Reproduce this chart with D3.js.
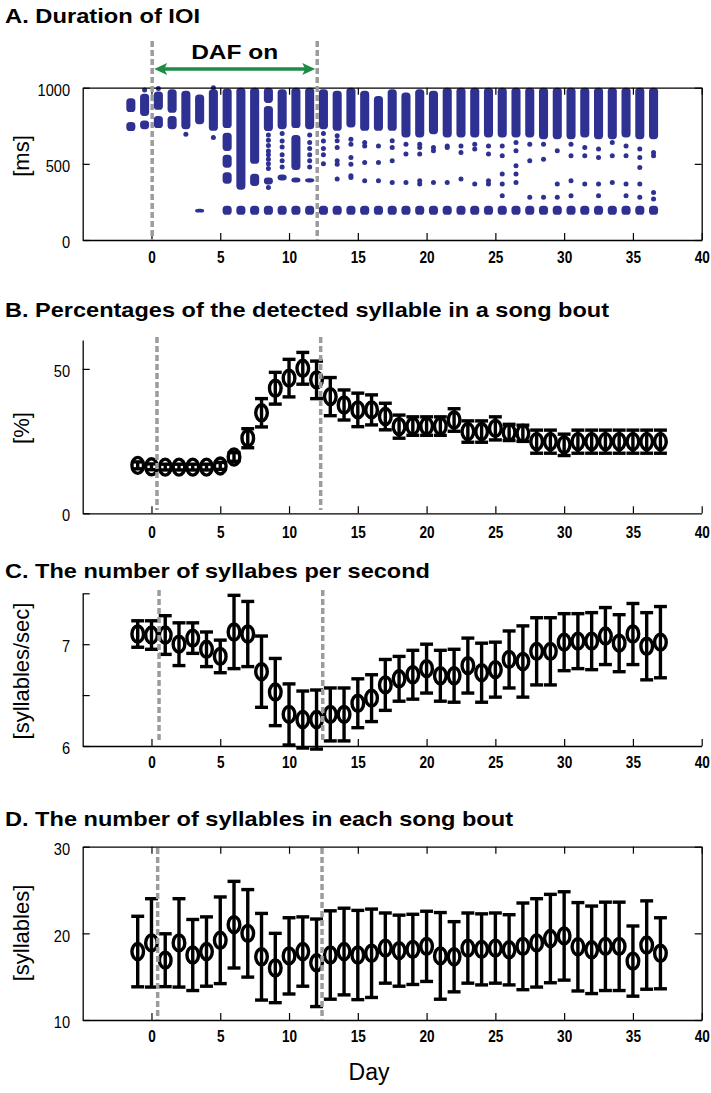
<!DOCTYPE html>
<html><head><meta charset="utf-8">
<script src="https://cdn.jsdelivr.net/npm/d3@7"></script>
<style>
body{margin:0;background:#fff;}
svg{display:block;font-family:"Liberation Sans",Arial,Helvetica,sans-serif;}
</style></head><body>
<svg id="chart" width="711" height="1093"></svg>
<script>
// ---------------- DATA ----------------
const days = [-1,0,1,2,3,4,5,6,7,8,9,10,11,12,13,14,15,16,17,18,19,20,21,22,23,24,25,26,27,28,29,30,31,32,33,34,35,36,37];
const xTickValues = [0,5,10,15,20,25,30,35,40];

// Panel A : IOI duration clusters (ms) per recording day column
const ioiDays = [-1.5,-0.5,0.5,1.5,2.5,3.5,4.5,5.5,6.5,7.5,8.5,9.5,10.5,11.5,12.5,13.5,14.5,15.5,16.5,17.5,18.5,19.5,20.5,21.5,22.5,23.5,24.5,25.5,26.5,27.5,28.5,29.5,30.5,31.5,32.5,33.5,34.5,35.5,36.5];
const ioiDense = [
  [[840,930],[715,775]],
  [[815,960],[728,785]],
  [[855,975],[735,815]],
  [[835,990],[728,815]],
  [[728,980]],
  [[760,955],[180,205]],
  [[717,990]],
  [[735,995],[585,705],[475,560],[370,445],[165,225]],
  [[330,1000],[165,225]],
  [[500,1000],[355,435],[165,225]],
  [[900,1000],[715,880],[365,410],[165,225]],
  [[728,990],[390,430],[165,225]],
  [[735,1000],[460,690],[378,411],[165,225]],
  [[728,1000],[378,405],[165,225]],
  [[728,990],[165,225]],
  [[717,980],[165,225]],
  [[739,1000],[165,225]],
  [[717,980],[165,225]],
  [[717,946],[165,225]],
  [[717,990],[165,225]],
  [[673,968],[165,225]],
  [[673,990],[165,225]],
  [[695,980],[165,225]],
  [[673,1000],[165,225]],
  [[673,1000],[165,225]],
  [[673,1000],[165,225]],
  [[673,1000],[165,225]],
  [[673,1000],[165,225]],
  [[673,1000],[165,225]],
  [[673,1000],[165,225]],
  [[662,1000],[165,225]],
  [[662,1000],[165,225]],
  [[662,1000],[165,225]],
  [[673,1000],[165,225]],
  [[662,1000],[165,225]],
  [[662,1000],[165,225]],
  [[673,1000],[165,225]],
  [[662,1000],[165,225]],
  [[662,1000],[165,225]]
];
const ioiSparse = [
  [-0.5,985],[0.5,995],[2.5,695],[4.5,673],[4.5,1000],
  [8.5,690],[8.5,655],[8.5,620],[8.5,585],[8.5,560],[8.5,530],[8.5,500],[8.5,470],[8.5,345],
  [9.5,700],[9.5,650],[9.5,610],[9.5,560],[9.5,520],[9.5,480],
  [11.5,690],[11.5,640],[11.5,600],[11.5,560],[11.5,520],[11.5,480],
  [12.5,700],[12.5,650],[12.5,600],[12.5,560],[12.5,500],
  [13.5,684],[13.5,651],[13.5,608],[13.5,520],[13.5,498],[13.5,400],
  [14.5,662],[14.5,629],[14.5,542],[14.5,498],[14.5,422],[14.5,411],
  [15.5,640],[15.5,618],[15.5,509],[15.5,389],
  [16.5,618],[16.5,509],[16.5,389],
  [17.5,651],[17.5,608],[17.5,520],[17.5,378],
  [18.5,629],[18.5,564],[18.5,378],
  [19.5,629],[19.5,608],[19.5,564],[19.5,389],[19.5,367],
  [20.5,607],[20.5,586],[20.5,378],
  [21.5,618],[21.5,608],[21.5,378],
  [22.5,618],[22.5,575],[22.5,400],
  [23.5,629],[23.5,597],[23.5,367],
  [24.5,618],[24.5,564],[24.5,389],[24.5,367],
  [25.5,618],[25.5,553],[25.5,433],[25.5,367],[25.5,290],
  [26.5,640],[26.5,586],[26.5,487],[26.5,433],[26.5,378],
  [27.5,629],[27.5,520],[27.5,280],
  [28.5,629],[28.5,531],[28.5,280],
  [29.5,586],[29.5,367],[29.5,280],
  [30.5,629],[30.5,553],[30.5,389],[30.5,290],
  [31.5,608],[31.5,553],[31.5,367],
  [32.5,597],[32.5,542],[32.5,367],[32.5,290],
  [33.5,640],[33.5,553],[33.5,378],
  [34.5,618],[34.5,553],[34.5,367],[34.5,290],
  [35.5,597],[35.5,542],[35.5,476],[35.5,367],[35.5,280],
  [36.5,575],[36.5,553],[36.5,312],[36.5,269]
];

// Panel B : percentage of detected syllable
const pctMean = [16.6,16.1,16.0,16.0,16.0,16.0,16.4,19.5,26.0,34.8,43.3,46.8,50.2,46.2,40.4,37.5,35.8,35.8,33.5,30.0,30.2,30.2,30.2,32.3,28.3,28.3,29.4,28.0,27.7,24.8,24.8,23.7,24.8,24.8,24.8,24.8,24.8,24.8,24.8];
const pctErr  = [1.2,1.0,1.0,1.0,1.0,1.0,1.2,1.5,3.3,4.9,5.5,6.5,5.5,6.5,6.6,5.2,5.8,5.2,4.6,4.0,3.2,3.2,3.2,3.9,3.7,3.7,4.0,2.8,2.8,4.0,4.0,3.7,4.0,4.0,4.0,4.0,4.0,4.0,4.0];

// Panel C : syllables per second
const rateMean = [7.10,7.09,7.09,7.00,7.06,6.95,6.88,7.12,7.10,6.73,6.53,6.31,6.26,6.26,6.31,6.31,6.42,6.47,6.60,6.66,6.70,6.76,6.69,6.69,6.79,6.72,6.75,6.85,6.83,6.93,6.93,7.02,7.03,7.03,7.08,7.01,7.10,6.98,7.02];
const rateErr  = [0.13,0.14,0.19,0.21,0.15,0.17,0.16,0.36,0.32,0.35,0.33,0.30,0.28,0.29,0.26,0.26,0.24,0.23,0.25,0.22,0.24,0.24,0.25,0.26,0.27,0.29,0.27,0.28,0.35,0.33,0.33,0.28,0.27,0.28,0.28,0.28,0.30,0.33,0.35];

// Panel D : syllables per song bout
const boutMean = [17.9,18.9,16.9,18.9,17.5,17.9,19.2,21.0,20.0,17.3,16.0,17.4,17.9,16.6,17.5,17.9,17.5,17.7,18.3,18.0,18.15,18.5,17.4,17.3,18.3,18.15,18.3,18.1,18.5,18.9,19.4,19.7,18.45,18.1,18.5,18.5,16.8,18.65,17.7];
const boutErr  = [4.07,5.1,3.05,5.1,4.1,4.0,5.0,5.0,5.05,5.0,4.0,4.4,4.0,5.05,5.1,5.0,5.15,5.1,4.05,4.1,4.05,4.05,5.0,4.05,4.05,4.1,4.05,4.05,5.0,5.1,5.1,5.1,5.1,5.05,5.1,5.1,4.05,5.1,4.1];

// DAF on / off day markers per panel
const dafA = [0.05, 12.05];
const dafB = [0.4, 12.3];
const dafC = [0.55, 12.45];
const dafD = [0.45, 12.4];

const yTicksA = [0,500,1000], yLabA = [0,500,1000];
const yTicksB = [0,50],       yLabB = [0,50];
const yTicksC = [6,6.5,7,7.5], yLabC = [6,7];
const yTicksD = [10,20,30],   yLabD = [10,20,30];

// ---------------- DRAW ----------------
const svg = d3.select('#chart');
const X = d3.scaleLinear().domain([-5,40]).range([82.7,701.7]);

const YA = d3.scaleLinear().domain([0,1000]).range([240,87.7]);
const YB = d3.scaleLinear().domain([0,60]).range([513.3,340]);
const YC = d3.scaleLinear().domain([6,7.5]).range([746,593.3]);
const YD = d3.scaleLinear().domain([10,30]).range([1020,846.7]);

function axes(Y, yTicks, yLabels, box, labelOff) {
  const [yb, yt] = Y.range();
  const gb = svg.append('g').attr('transform', `translate(0,${yb})`)
    .call(d3.axisBottom(X).tickValues(xTickValues).tickSizeInner(-7).tickSizeOuter(0).tickFormat(d3.format('d')));
  gb.selectAll('text').attr('y', labelOff).attr('dy', 0)
    .attr('font-size', 16).attr('font-weight', 'bold').attr('fill', '#000')
    .attr('font-family', '"Liberation Sans",Arial,sans-serif')
    .attr('transform', 'scale(0.85,1)');
  const gl = svg.append('g').attr('transform', `translate(${X.range()[0]},0)`)
    .call(d3.axisLeft(Y).tickValues(yTicks).tickSizeInner(-7).tickSizeOuter(0)
      .tickFormat(d => yLabels.includes(d) ? d3.format('d')(d) : ''));
  gl.selectAll('text').attr('x', -12.7/0.86).attr('dy', '0.45em')
    .attr('font-size', 17).attr('fill', '#000')
    .attr('font-family', '"Liberation Sans",Arial,sans-serif')
    .attr('transform', 'scale(0.86,1)');
  if (box) {
    svg.append('g').attr('transform', `translate(0,${yt})`)
      .call(d3.axisTop(X).tickValues(xTickValues).tickSizeInner(-7).tickSizeOuter(0).tickFormat(''));
    svg.append('g').attr('transform', `translate(${X.range()[1]},0)`)
      .call(d3.axisRight(Y).tickValues(yTicks).tickSizeInner(-7).tickSizeOuter(0).tickFormat(''));
  }
  svg.selectAll('.domain').attr('stroke', '#000').attr('stroke-width', 1.3);
  svg.selectAll('.tick line').attr('stroke', '#000').attr('stroke-width', 1.2);
}

function dashed(vals, y0, y1) {
  svg.append('g').selectAll('line').data(vals).join('line')
    .attr('x1', d => X(d)).attr('x2', d => X(d))
    .attr('y1', y0).attr('y2', y1)
    .attr('stroke', '#9c9c9c').attr('stroke-width', 3.5)
    .attr('stroke-dasharray', '6,3');
}

function errPlot(Y, mean, err) {
  const g = svg.append('g').attr('stroke', '#000').attr('fill', 'none').attr('stroke-width', 3.4);
  const cap = X(0.47) - X(0);
  days.forEach((d, i) => {
    const cx = X(d), lo = Y(mean[i] - err[i]), hi = Y(mean[i] + err[i]);
    g.append('line').attr('x1', cx).attr('x2', cx).attr('y1', lo).attr('y2', hi);
    g.append('line').attr('x1', cx - cap).attr('x2', cx + cap).attr('y1', lo).attr('y2', lo);
    g.append('line').attr('x1', cx - cap).attr('x2', cx + cap).attr('y1', hi).attr('y2', hi);
    g.append('ellipse').attr('cx', cx).attr('cy', Y(mean[i])).attr('rx', 5.8).attr('ry', 8);
  });
}

function title(txt, y, len) {
  svg.append('text').attr('x', 5).attr('y', y).attr('font-size', 21).attr('font-weight', 'bold')
    .attr('textLength', len).attr('lengthAdjust', 'spacingAndGlyphs').text(txt);
}
function ylabel(txt, cy) {
  svg.append('text').attr('transform', `translate(29,${cy}) rotate(-90)`)
    .attr('text-anchor', 'middle').attr('font-size', 22).text(txt);
}

// ----- Panel A -----
title('A. Duration of IOI', 23, 195);
const colW = X(0.33) - X(0);
const gA = svg.append('g').attr('fill', '#2e3192');
ioiDays.forEach((d, i) => {
  gA.selectAll(null).data(ioiDense[i]).join('rect')
    .attr('x', X(d) - colW).attr('width', 2 * colW)
    .attr('y', s => YA(s[1])).attr('height', s => YA(s[0]) - YA(s[1]))
    .attr('rx', colW * 0.8);
});
gA.selectAll('circle').data(ioiSparse).join('circle')
  .attr('cx', p => X(p[0])).attr('cy', p => YA(p[1])).attr('r', 2.5);
axes(YA, yTicksA, yLabA, true, 23);
dashed(dafA, 41, 240);
ylabel('[ms]', 156);
// DAF on arrow
const green = '#1f8c45';
const ax0 = X(dafA[0]) + 2, ax1 = X(dafA[1]) - 2, ay = 69;
svg.append('line').attr('x1', ax0 + 6).attr('x2', ax1 - 6).attr('y1', ay).attr('y2', ay)
  .attr('stroke', green).attr('stroke-width', 3.5);
svg.append('path').attr('fill', green)
  .attr('d', `M${ax0},${ay} L${ax0 + 13},${ay - 6} L${ax0 + 10},${ay} L${ax0 + 13},${ay + 6} Z`);
svg.append('path').attr('fill', green)
  .attr('d', `M${ax1},${ay} L${ax1 - 13},${ay - 6} L${ax1 - 10},${ay} L${ax1 - 13},${ay + 6} Z`);
svg.append('text').attr('x', (ax0 + ax1) / 2).attr('y', 59).attr('text-anchor', 'middle')
  .attr('font-size', 21).attr('font-weight', 'bold')
  .attr('textLength', 87).attr('lengthAdjust', 'spacingAndGlyphs').text('DAF on');

// ----- Panel B -----
title('B. Percentages of the detected syllable in a song bout', 317, 604);
axes(YB, yTicksB, yLabB, false, 25);
errPlot(YB, pctMean, pctErr);
dashed(dafB, 337, 510);
ylabel('[%]', 428);

// ----- Panel C -----
title('C. The number of syllabes per second', 578, 425);
axes(YC, yTicksC, yLabC, false, 22);
errPlot(YC, rateMean, rateErr);
dashed(dafC, 590, 742);
ylabel('[syllables/sec]', 671);

// ----- Panel D -----
title('D. The number of syllables in each song bout', 826, 508);
axes(YD, yTicksD, yLabD, true, 22);
errPlot(YD, boutMean, boutErr);
dashed(dafD, 848, 1020);
ylabel('[syllables]', 933);

svg.append('text').attr('x', 369).attr('y', 1080).attr('text-anchor', 'middle')
  .attr('font-size', 23).text('Day');
</script>
</body></html>
